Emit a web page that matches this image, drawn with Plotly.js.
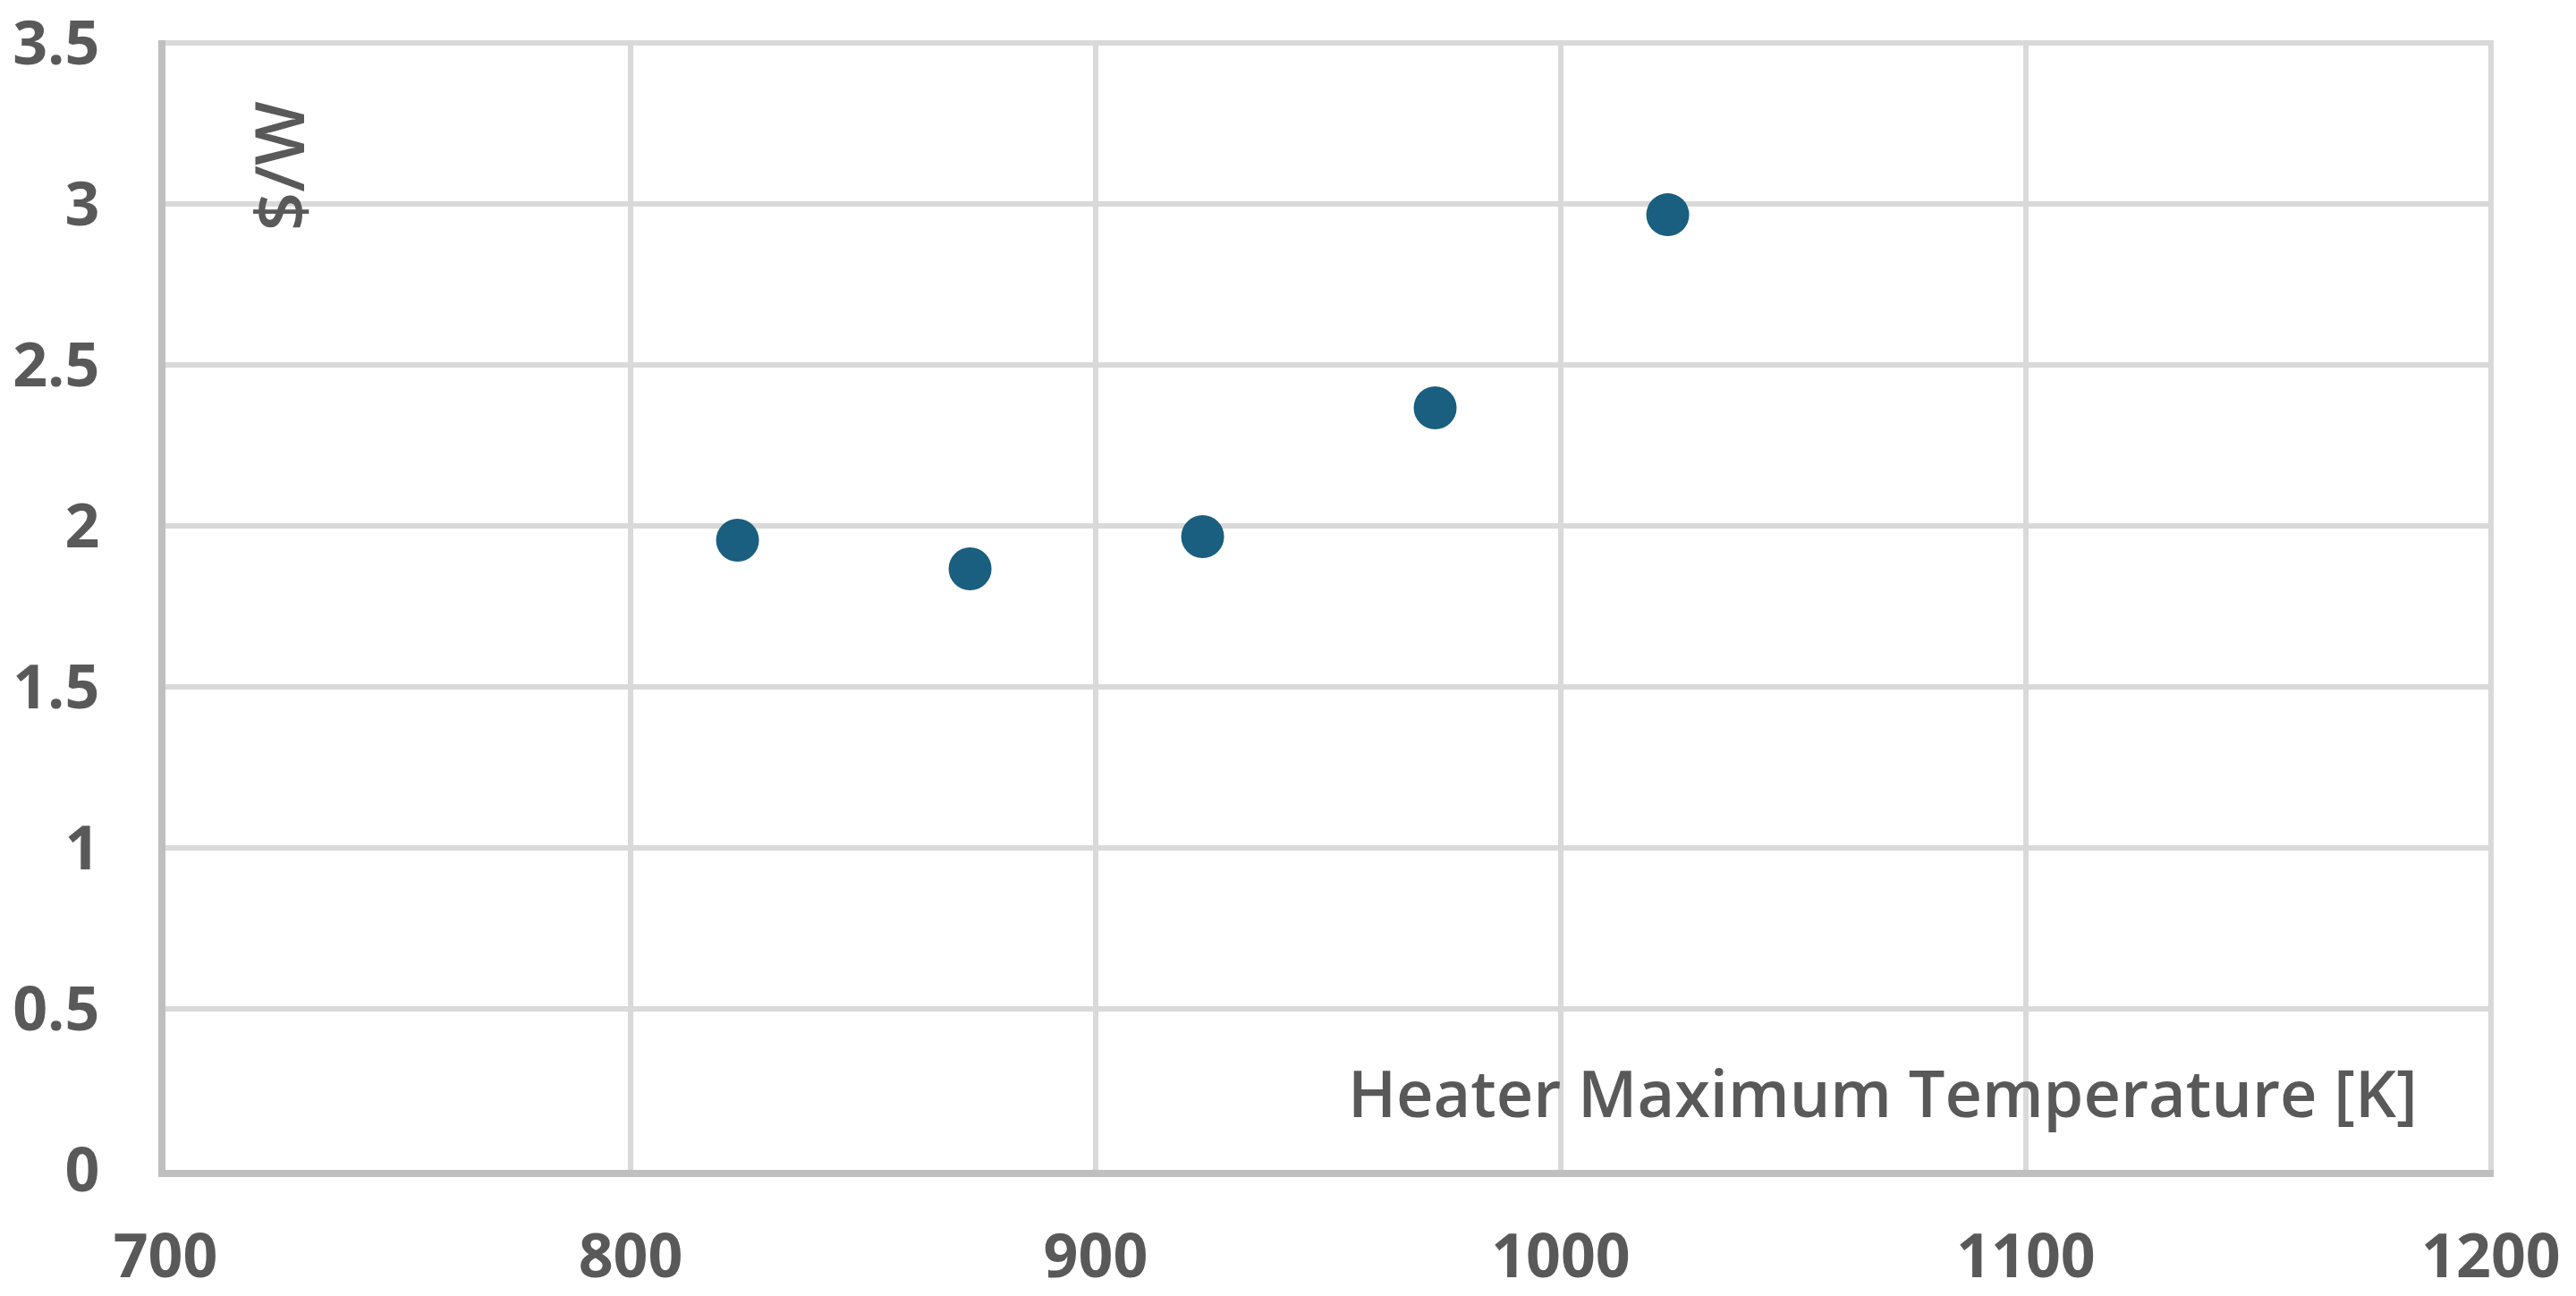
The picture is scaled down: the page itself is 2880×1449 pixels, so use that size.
<!DOCTYPE html>
<html>
<head>
<meta charset="utf-8">
<script src="https://cdn.plot.ly/plotly-3.0.1.min.js"></script>
<style>html,body{margin:0;padding:0;background:#fff;}#chart{width:2880px;height:1449px;}</style>
</head>
<body>
<div id="chart"></div>
<script>
// Data
const temperatureK = [823, 873, 923, 973, 1023];
const costPerWatt = [1.956, 1.867, 1.967, 2.367, 2.967];
const xTickVals = [700, 800, 900, 1000, 1100, 1200];
const yTickVals = [0, 0.5, 1, 1.5, 2, 2.5, 3, 3.5];
const xTitle = "Heater Maximum Temperature [K]";
const yTitle = "$/W";

const textColor = "#595959";
const fontFamily = "'Open Sans', 'Noto Sans', sans-serif";

const trace = {
  type: "scatter",
  mode: "markers",
  x: temperatureK,
  y: costPerWatt,
  marker: {color: "#1A5E80", size: 48, line: {width: 0}},
  hoverinfo: "x+y",
  showlegend: false
};

const layout = {
  width: 2880,
  height: 1449,
  margin: {l: 185, r: 92, t: 45, b: 141, pad: 0},
  paper_bgcolor: "#ffffff",
  plot_bgcolor: "#ffffff",
  font: {family: fontFamily, color: textColor, size: 68, weight: 700},
  xaxis: {
    range: [700, 1200.6],
    tickvals: xTickVals,
    ticktext: xTickVals.map(String),
    showgrid: true,
    gridcolor: "#D9D9D9",
    gridwidth: 6,
    zeroline: false,
    showline: true,
    linecolor: "#BFBFBF",
    linewidth: 8,
    ticks: "",
    ticklabelstandoff: 30,
    ticklabeloverflow: "allow",
    tickfont: {family: fontFamily, size: 68, color: textColor, weight: 700},
    fixedrange: true
  },
  yaxis: {
    range: [0, 3.509],
    tickvals: yTickVals,
    ticktext: yTickVals.map(String),
    showgrid: true,
    gridcolor: "#D9D9D9",
    gridwidth: 6,
    zeroline: false,
    showline: true,
    linecolor: "#BFBFBF",
    linewidth: 8,
    ticks: "",
    ticklabelstandoff: 52,
    ticklabeloverflow: "allow",
    tickfont: {family: fontFamily, size: 68, color: textColor, weight: 700},
    fixedrange: true
  },
  annotations: [
    {
      text: xTitle,
      xref: "paper", yref: "paper",
      x: 0.9681, y: 0.069,
      xanchor: "right", yanchor: "middle",
      showarrow: false,
      font: {family: fontFamily, size: 72, color: textColor, weight: 600}
    },
    {
      text: yTitle,
      xref: "paper", yref: "paper",
      x: 0.048, y: 0.889,
      xanchor: "center", yanchor: "middle",
      textangle: -90,
      showarrow: false,
      font: {family: fontFamily, size: 76, color: textColor, weight: 600}
    }
  ]
};

Plotly.newPlot("chart", [trace], layout, {displayModeBar: false, staticPlot: true});
</script>
</body>
</html>
